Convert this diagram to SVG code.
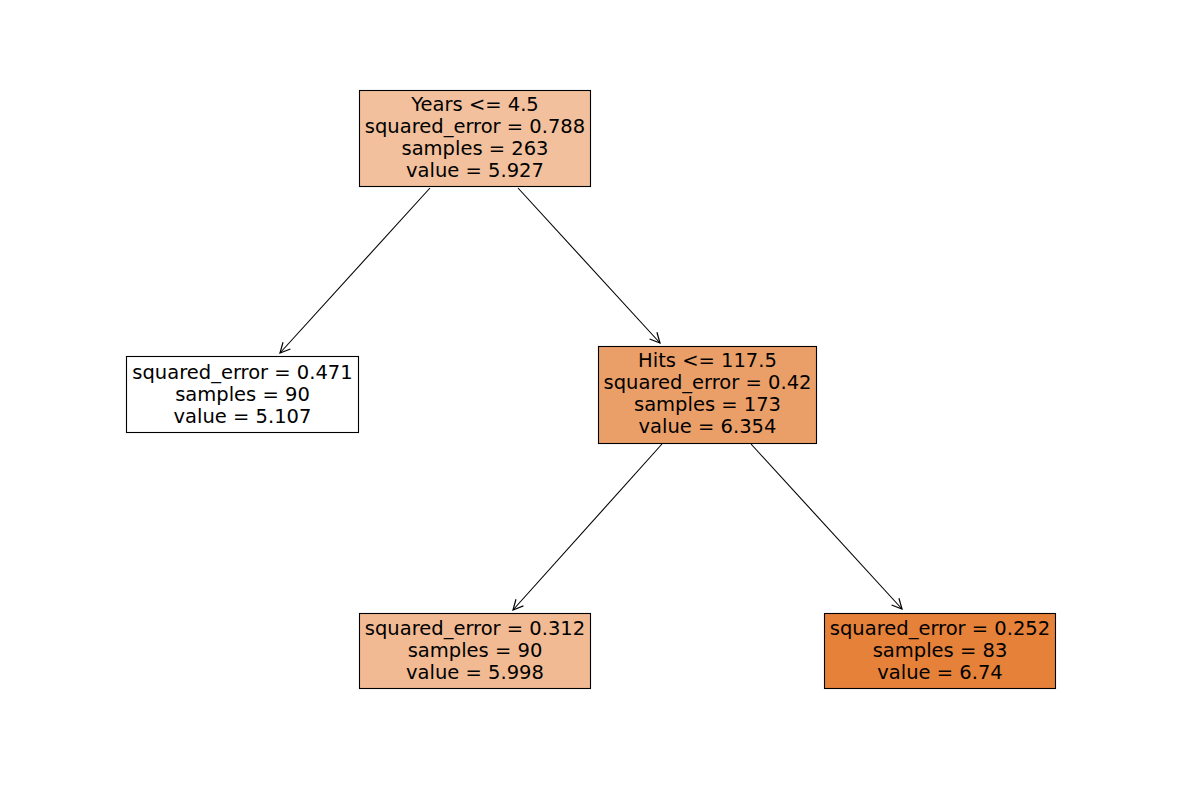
<svg xmlns="http://www.w3.org/2000/svg" width="1182" height="790" viewBox="0 0 1182 790">
<defs>
<marker id="ah" viewBox="0 0 12 12" refX="11" refY="6" markerWidth="12" markerHeight="12" markerUnits="userSpaceOnUse" orient="auto">
<path d="M1,1 L11,6 L1,11" fill="none" stroke="#000" stroke-width="1.2"/>
</marker>
<style>
.box{stroke:#000;stroke-width:1.1}
text{font-family:"DejaVu Sans",sans-serif;font-size:19.5px;fill:#000;text-anchor:middle}
.edge{stroke:#000;stroke-width:1.1;fill:none;marker-end:url(#ah)}
</style>
</defs>
<rect width="1182" height="790" fill="#fff"/>
<g id="connectors">
<line class="edge" x1="430" y1="188" x2="280" y2="353"/>
<line class="edge" x1="518" y1="188" x2="660" y2="343"/>
<line class="edge" x1="662" y1="444" x2="513" y2="610"/>
<line class="edge" x1="751" y1="444" x2="902" y2="609"/>
</g>
<g id="node0">
<rect class="box" x="359.5" y="90.5" width="231" height="96" fill="#f2c09c"/>
<text x="475" y="111">Years &lt;= 4.5</text>
<text x="475" y="133">squared_error = 0.788</text>
<text x="475" y="155">samples = 263</text>
<text x="475" y="177">value = 5.927</text>
</g>
<g id="node1">
<rect class="box" x="126.5" y="356.5" width="232" height="76" fill="#ffffff"/>
<text x="242.5" y="379">squared_error = 0.471</text>
<text x="242.5" y="401">samples = 90</text>
<text x="242.5" y="423">value = 5.107</text>
</g>
<g id="node2">
<rect class="box" x="598.5" y="346.5" width="218" height="97" fill="#eb9f68"/>
<text x="707.5" y="367">Hits &lt;= 117.5</text>
<text x="707.5" y="389">squared_error = 0.42</text>
<text x="707.5" y="411">samples = 173</text>
<text x="707.5" y="433">value = 6.354</text>
</g>
<g id="node3">
<rect class="box" x="359.5" y="613.5" width="231" height="75" fill="#f1ba93"/>
<text x="475" y="635">squared_error = 0.312</text>
<text x="475" y="657">samples = 90</text>
<text x="475" y="679">value = 5.998</text>
</g>
<g id="node4">
<rect class="box" x="824.5" y="613.5" width="231" height="75" fill="#e58139"/>
<text x="940" y="635">squared_error = 0.252</text>
<text x="940" y="657">samples = 83</text>
<text x="940" y="679">value = 6.74</text>
</g>
</svg>
